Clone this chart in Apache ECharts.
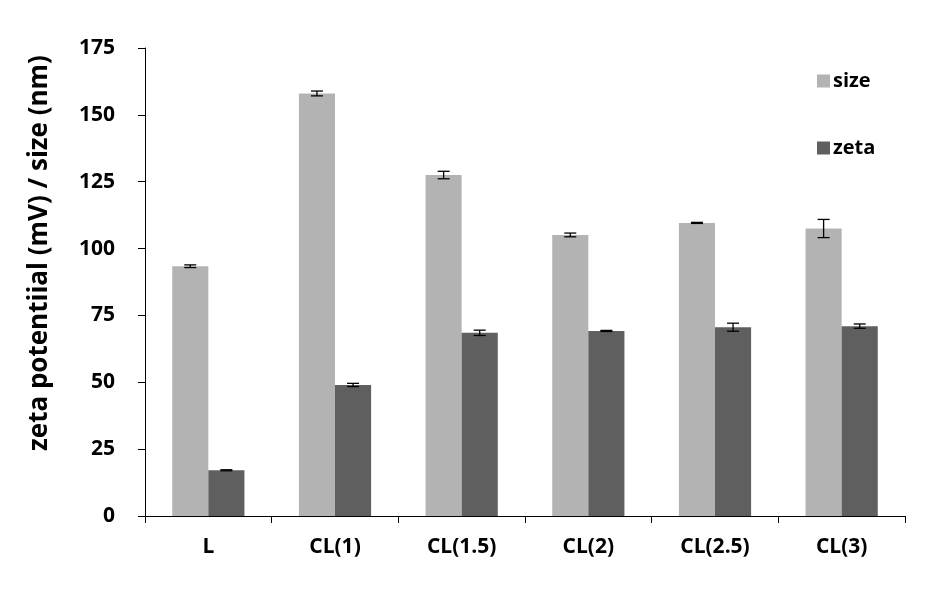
<!DOCTYPE html>
<html>
<head>
<meta charset="utf-8">
<script src="https://cdn.jsdelivr.net/npm/echarts@6/dist/echarts.min.js"></script>
<style>html,body{margin:0;padding:0;background:#fff}#c{width:933px;height:589px}</style>
</head>
<body>
<div id="c"></div>
<script>
var categories = ['L', 'CL(1)', 'CL(1.5)', 'CL(2)', 'CL(2.5)', 'CL(3)'];
var sizeValues = [93.4, 158.0, 127.5, 105.1, 109.6, 107.5];
var sizeErrors = [0.5, 0.9, 1.4, 0.7, 0.2, 3.4];
var zetaValues = [17.1, 49.0, 68.5, 69.2, 70.6, 71.0];
var zetaErrors = [0.2, 0.6, 1.0, 0.2, 1.5, 0.8];
var yTicks = [0, 25, 50, 75, 100, 125, 150, 175];

var CAT_GAP = 0.43;
var FONT = '"Open Sans", "Liberation Sans", sans-serif';

function errorSeries(values, errors, side) {
  var data = values.map(function (v, i) { return [i, v - errors[i], v + errors[i]]; });
  return {
    type: 'custom',
    silent: true,
    z: 10,
    renderItem: function (params, api) {
      var i = api.value(0);
      var lo = api.coord([i, api.value(1)]);
      var hi = api.coord([i, api.value(2)]);
      var band = api.size([1, 0])[0];
      var bw = band * (1 - CAT_GAP) / 2;
      var x = lo[0] + side * bw / 2;
      var cap = 6;
      var st = { stroke: '#000', lineWidth: 1.3 };
      return {
        type: 'group',
        children: [
          { type: 'line', shape: { x1: x, y1: hi[1], x2: x, y2: lo[1] }, style: st },
          { type: 'line', shape: { x1: x - cap, y1: hi[1], x2: x + cap, y2: hi[1] }, style: st },
          { type: 'line', shape: { x1: x - cap, y1: lo[1], x2: x + cap, y2: lo[1] }, style: st }
        ]
      };
    },
    encode: { x: 0, y: [1, 2] },
    data: data
  };
}

var chart = echarts.init(document.getElementById('c'));
chart.setOption({
  animation: false,
  backgroundColor: '#fff',
  grid: { left: 145, right: 28, top: 48, bottom: 73 },
  legend: {
    orient: 'vertical',
    left: 812, top: 66,
    itemGap: 47,
    itemWidth: 13, itemHeight: 13,
    icon: 'rect',
    data: ['size', 'zeta'],
    textStyle: { fontFamily: FONT, fontWeight: 'bold', fontSize: 20, color: '#000', padding: [0, 0, 0, -2] }
  },
  graphic: [{
    type: 'text',
    x: 40, y: 253,
    rotation: Math.PI / 2,
    style: {
      text: 'zeta potentiial (mV) / size (nm)',
      fontFamily: FONT, fontWeight: 'bold', fontSize: 26, fill: '#000',
      textAlign: 'center', textVerticalAlign: 'middle'
    }
  }],
  xAxis: {
    type: 'category',
    data: categories,
    axisLine: { lineStyle: { color: '#000', width: 1 } },
    axisTick: { show: true, length: 7, alignWithLabel: false, lineStyle: { color: '#000' } },
    axisLabel: { margin: 21, fontFamily: FONT, fontWeight: 'bold', fontSize: 21, color: '#000' }
  },
  yAxis: {
    type: 'value',
    min: 0, max: 175, interval: 25,
    axisLine: { show: true, lineStyle: { color: '#000', width: 1 } },
    axisTick: { show: true, length: 7, lineStyle: { color: '#000' } },
    splitLine: { show: false },
    axisLabel: {
      margin: 30, fontFamily: FONT, fontWeight: 'bold', fontSize: 21, color: '#000',
      customValues: yTicks
    }
  },
  series: [
    { name: 'size', type: 'bar', data: sizeValues, barGap: '0%', barCategoryGap: (CAT_GAP * 100) + '%', itemStyle: { color: '#b3b3b3' } },
    { name: 'zeta', type: 'bar', data: zetaValues, barGap: '0%', barCategoryGap: (CAT_GAP * 100) + '%', itemStyle: { color: '#5f5f5f' } },
    errorSeries(sizeValues, sizeErrors, -1),
    errorSeries(zetaValues, zetaErrors, 1)
  ]
});
</script>
</body>
</html>
